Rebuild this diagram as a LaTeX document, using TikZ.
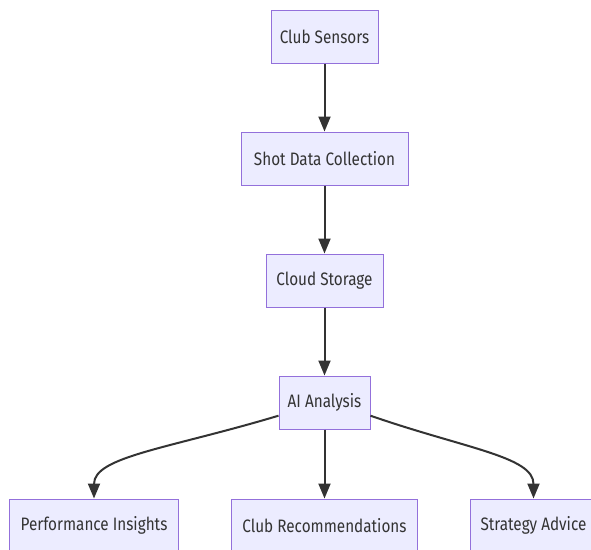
\documentclass[tikz,border=0pt]{standalone}
\usepackage{fontspec}
\setmainfont[FakeStretch=0.85]{Fira Sans}
\usetikzlibrary{chains,positioning,arrows.meta}
\definecolor{boxfill}{HTML}{ECECFF}
\definecolor{boxline}{HTML}{9370DB}
\definecolor{edgecol}{HTML}{333333}
\begin{document}
\begin{tikzpicture}
[x=1pt,y=1pt,
flownode/.style={inner sep=0pt,minimum height=53pt,rectangle,
draw=boxline,fill=boxfill,line width=1pt,text=edgecol,
font=\fontsize{18}{21}\selectfont},
flowedge/.style={draw=edgecol,line width=2pt,
-{Triangle[length=15pt,width=12pt]}}
]
\useasboundingbox (0,0) rectangle (591,-549);
\begin{scope}[start chain=1 going below,node distance=68pt]
\node [flownode,on chain=1,minimum width=107pt] (Sensors) at (324.5,-36.5) {Club Sensors};
\node [flownode,on chain=1,minimum width=167pt] (ShotData) {Shot Data Collection};
\node [flownode,on chain=1,minimum width=117pt] (Cloud) {Cloud Storage};
\node [flownode,on chain=1,minimum width=91pt] (AI) {AI Analysis};
\end{scope}
\node [flownode,minimum width=186pt,below=69pt of AI] (ClubRec) {Club Recommendations};
\node [flownode,minimum width=169pt,left=52pt of ClubRec] (Perf) {Performance Insights};
\node [flownode,minimum width=126pt,right=52pt of ClubRec] (Strategy) {Strategy Advice};
% column
\draw [flowedge] (Sensors) -- (ShotData);
\draw [flowedge] (ShotData) -- (Cloud);
\draw [flowedge] (Cloud) -- (AI);
% fan out
\draw [flowedge] (AI.196) .. controls +(-110,-33) and +(0,42) .. (Perf.north);
\draw [flowedge] (AI) -- (ClubRec);
\draw [flowedge] (AI.-16) .. controls +(95,-33) and +(0,42) .. (Strategy.north);
\end{tikzpicture}
\end{document}
